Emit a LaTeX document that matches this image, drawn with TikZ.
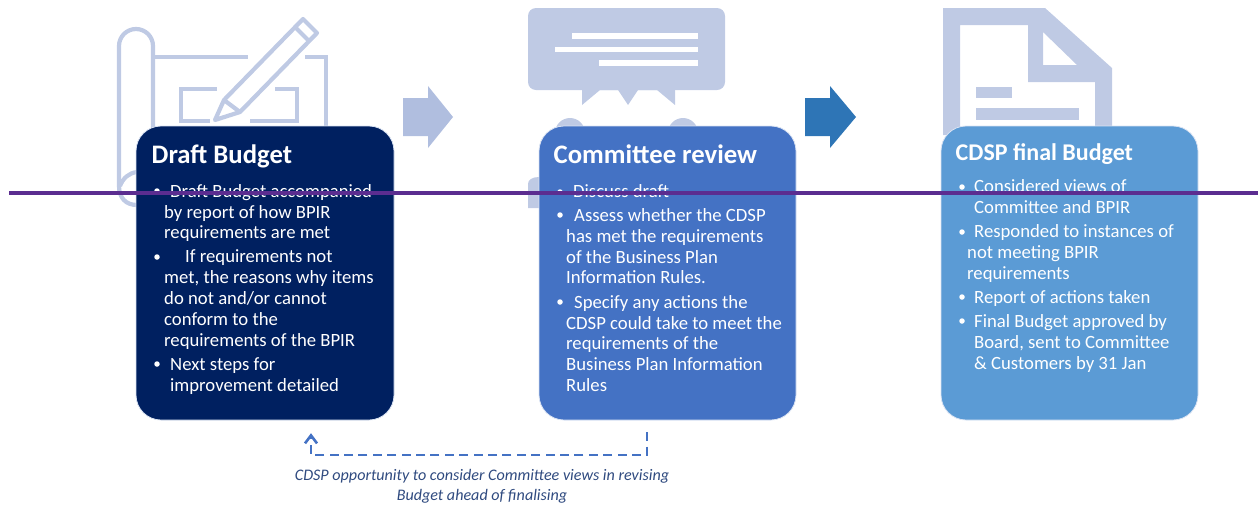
\documentclass[tikz,border=0pt]{standalone}
\usepackage{fontspec}
\usetikzlibrary{arrows.meta}
\setmainfont{Carlito}
\definecolor{icon}{HTML}{BFCAE4}
\definecolor{boxa}{HTML}{002060}
\definecolor{boxb}{HTML}{4472C4}
\definecolor{boxc}{HTML}{5B9BD5}
\definecolor{arra}{HTML}{B0BEDF}
\definecolor{arrb}{HTML}{2E75B6}
\definecolor{purp}{HTML}{5B2D90}
\definecolor{capt}{HTML}{2F4A7F}
\tikzset{
  cardbox/.style={rounded corners=25pt,draw=white!80!boxb,line width=0.8pt},
  title/.style={anchor=base west,text=white,font=\fontsize{26.7}{27}\selectfont\bfseries,inner sep=0pt},
  titlec/.style={anchor=base west,text=white,font=\fontsize{24}{24}\selectfont\bfseries,inner sep=0pt},
  body/.style={anchor=base west,text=white,font=\fontsize{18.7}{20}\selectfont,inner sep=0pt},
  capline/.style={anchor=base,inner sep=0pt,text=capt,font=\fontsize{16.1}{17}\selectfont\itshape},
  dot/.style={circle,fill=white,inner sep=0pt,minimum size=5.5pt},
  iconline/.style={draw=icon,line width=4.2pt},
}
\begin{document}
\begin{tikzpicture}[x=1pt,y=-1pt]
\useasboundingbox (0,0) rectangle (1258,504);
% icon 1: plan and pencil
\draw[iconline,rounded corners=17pt] (153,130) -- (153,29) -- (119,29) -- (119,186);
\draw[iconline] (119,186) .. controls (119,198) and (126,205) .. (137,205);
\draw[iconline] (137,172) .. controls (129,173) and (123,178) .. (120,186);
\draw[iconline] (153,57) -- (248,57) (305,57) -- (326,57) -- (326,130);
\draw[iconline] (217,89) -- (181,89) -- (181,121) -- (210,121) (250,121) -- (297,121) -- (297,89) -- (275,89);
\draw[iconline,line join=round] (303,19) -- (317,33) -- (240,112) -- (215,120) -- (224,100) -- cycle;
\draw[iconline] (224,100) -- (240,112) (295,27) -- (309,41);
% icon 2: speech bubble
\fill[icon,rounded corners=8pt] (528,8) -- (725,8) -- (725,90) -- (528,90) -- cycle;
\fill[icon] (582,88) -- (582,105) -- (600,90) -- (618,90) -- (628,105) -- (638,90) -- (657,90) -- (675,105) -- (675,88) -- cycle;
\fill[white] (572,33) rectangle (698,39);
\fill[white] (555,47) rectangle (698,52);
\fill[white] (599,60) rectangle (698,66);
\fill[icon] (570,133) circle[radius=15];
\fill[icon] (683,133) circle[radius=15];
\fill[icon] (528,208) -- (528,184) .. controls (528,180) and (532,177) .. (539,177) -- (545,177) -- (545,208) -- cycle;
% icon 3: document
\fill[icon,even odd rule] (943,8) -- (1045,8) -- (1112,68) -- (1112,135) -- (943,135) -- cycle
  (960,25) -- (960,135) -- (1095,135) -- (1095,82) -- (1028,82) -- (1028,25) -- cycle
  (1043,32) -- (1043,65) -- (1077,65) -- cycle;
\fill[icon] (976,87) rectangle (1012,98);
\fill[icon] (976,108) rectangle (1079,120);
% cards
\path[cardbox,fill=boxa] (136,126) rectangle (394,420);
\path[cardbox,fill=boxb] (539,126) rectangle (796,420);
\path[cardbox,fill=boxc] (941,126) rectangle (1198,420);
% block arrows
\fill[arra] (403,98) -- (428,98) -- (428,86) -- (453,117) -- (428,148) -- (428,136) -- (403,136) -- cycle;
\fill[arrb] (805,98) -- (830,98) -- (830,86) -- (856,117) -- (830,148) -- (830,136) -- (805,136) -- cycle;
% titles
\node[title] (ta) at (151.5,163) {Draft Budget};
\node[title] (tb) at (553.5,163) {Committee review};
\node[titlec] (tc) at (955.5,160) {CDSP final Budget};
% bullets
\foreach \x/\y [count=\i] in {157/191,157/257,157/364,560/192,560/215,560/302,962/187,962/232,962/297,962/321}
  \node[dot] (bullet\i) at (\x,\y) {};
% body text
\foreach \x/\y/\t [count=\i] in {
 170/197/{Draft Budget accompanied},
 164/218/{by report of how BPIR},
 164/238/{requirements are met},
 185/262/{If requirements not},
 164/283/{met, the reasons why items},
 164/304/{do not and/or cannot},
 164/325/{conform to the},
 164/346/{requirements of the BPIR},
 170/370/{Next steps for},
 170/391/{improvement detailed},
 573/197/{Discuss draft},
 574/221/{Assess whether the CDSP},
 566/242/{has met the requirements},
 566/263/{of the Business Plan},
 566/283/{Information Rules.},
 574/308/{Specify any actions the},
 566/329/{CDSP could take to meet the},
 566/349/{requirements of the},
 566/370/{Business Plan Information},
 566/391/{Rules},
 974/192/{Considered views of},
 974/213/{Committee and BPIR},
 974/237/{Responded to instances of},
 967/258/{not meeting BPIR},
 967/279/{requirements},
 974/303/{Report of actions taken},
 974/327/{Final Budget approved by},
 974/348/{Board, sent to Committee},
 974/369/{\& Customers by 31 Jan}}
  \node[body] (line\i) at (\x,\y) {\t};
% dashed feedback
\node[inner sep=0pt,minimum size=0pt] (fromcard) at (647,432) {};
\node[inner sep=0pt,minimum size=0pt] (tocard) at (311,433) {};
\coordinate (cornerb) at (647,455);
\coordinate (cornera) at (311,455);
\draw[boxb,line width=2.6pt,dash pattern=on 9pt off 5.4pt,-{Straight Barb[length=8pt,width=12pt]}] (fromcard) -- (cornerb) -- (cornera) -- (tocard);
% captions
\node[capline] (capa) at (482,480) {CDSP opportunity to consider Committee views in revising};
\node[capline] (capb) at (482,500) {Budget ahead of finalising};
% rule
\coordinate (rulea) at (9,193);
\coordinate (ruleb) at (1258,193);
\draw[purp,line width=4.6pt] (rulea) -- (ruleb);
\end{tikzpicture}
\end{document}
